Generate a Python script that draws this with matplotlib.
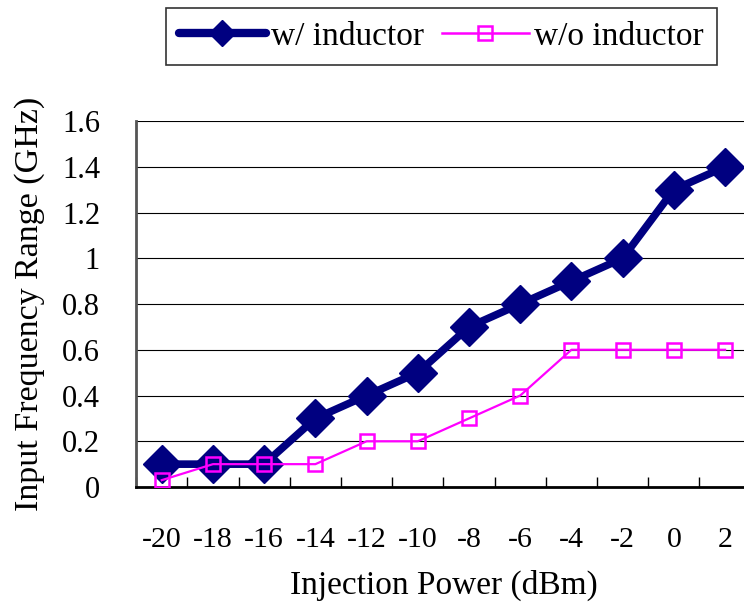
import matplotlib.pyplot as plt
from matplotlib.lines import Line2D
import numpy as np

powers = ['-20', '-18', '-16', '-14', '-12', '-10', '-8', '-6', '-4', '-2', '0', '2']
with_ind = [0.1, 0.1, 0.1, 0.3, 0.4, 0.5, 0.7, 0.8, 0.9, 1.0, 1.3, 1.4]
without_ind = [0.03, 0.1, 0.1, 0.1, 0.2, 0.2, 0.3, 0.4, 0.6, 0.6, 0.6, 0.6]

plt.rcParams['font.family'] = ['Liberation Serif', 'DejaVu Serif']

fig = plt.figure(figsize=(7.44, 6.05), dpi=100)
ax = fig.add_axes([0.183, 0.195, 0.826, 0.605])

navy = '#000080'
pink = '#ff00ff'
x = np.arange(len(powers))
ax.plot(x, with_ind, color=navy, lw=5.5, marker='D', ms=19,
        mfc=navy, mec=navy, zorder=3)
ax.plot(x, without_ind, color=pink, lw=1.6, marker='s', ms=10,
        mfc='none', mec=pink, mew=1.8, zorder=4)

ax.set_xlim(-0.5, len(powers) - 0.5)
ax.set_ylim(0, 1.6)
ax.set_yticks(np.arange(0, 1.61, 0.2))
ax.set_yticklabels(['0', '0.2', '0.4', '0.6', '0.8', '1', '1.2', '1.4', '1.6'])
ax.set_xticks(x)
ax.set_xticklabels(powers)
ax.set_xticks(np.arange(-0.5, len(powers)), minor=True)
ax.tick_params(axis='x', which='major', length=0, pad=29, labelsize=21.5)
ax.tick_params(axis='x', which='minor', direction='in', length=7, width=1)
ax.tick_params(axis='y', length=0, pad=26, labelsize=22)
ax.yaxis.grid(True, color='black', lw=0.8)
ax.set_axisbelow(True)

for s in ['top', 'right']:
    ax.spines[s].set_visible(False)
ax.spines['left'].set_linewidth(2)
ax.spines['left'].set_color('#555555')
ax.spines['bottom'].set_linewidth(2)

ax.set_xlabel('Injection Power (dBm)', fontsize=24, labelpad=12)
ax.set_ylabel('Input Frequency Range (GHz)', fontsize=24.5, labelpad=12)

handles = [
    Line2D([], [], color=navy, lw=6, marker='D', ms=13, mfc=navy, mec=navy,
           solid_capstyle='round'),
    Line2D([], [], color=pink, lw=1.8, marker='s', ms=10, mfc='none',
           mec=pink, mew=1.8),
]
leg = fig.legend(handles, ['w/ inductor', 'w/o inductor'],
                 loc='upper center', bbox_to_anchor=(0.593, 0.987), ncol=2,
                 fontsize=24, frameon=True, fancybox=False, edgecolor='black',
                 handlelength=2.6, handletextpad=0.15, columnspacing=0.55,
                 borderpad=0.4, borderaxespad=0)
leg.get_frame().set_linewidth(1.2)

fig.savefig('out.png', dpi=100)
